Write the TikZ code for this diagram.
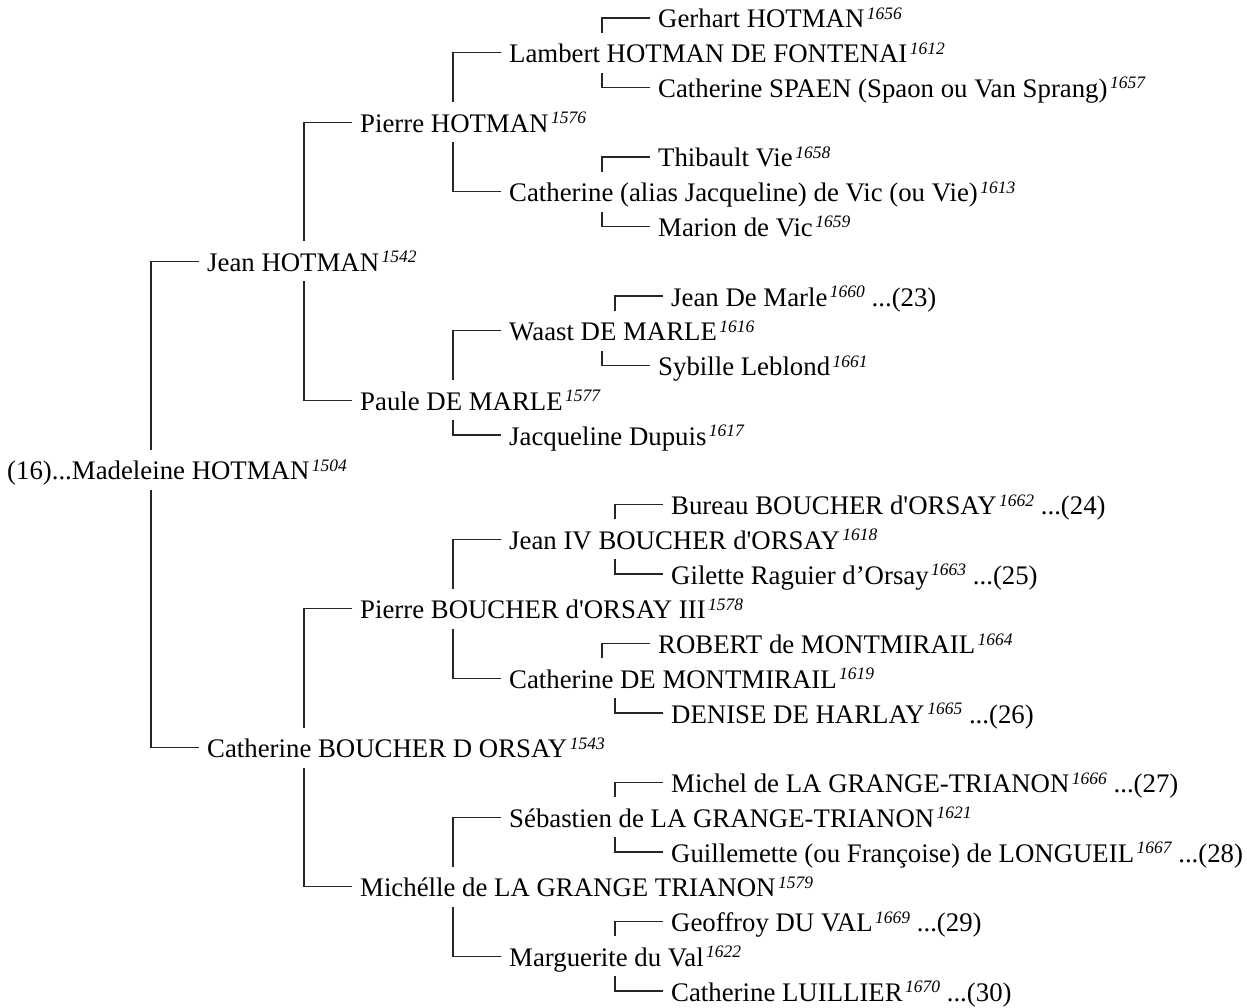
\documentclass[tikz,border=0pt]{standalone}
\usepackage{fontspec}
\setmainfont{Liberation Serif}[Ligatures=TeXOff]
\newcommand\yr[1]{\kern2.5pt\raisebox{8.5pt}{\fontsize{17.5}{17.5}\selectfont\itshape #1}}
\newcommand\famlink[3]{%
  \path ([xshift=-56pt,yshift=10pt]#2.base west) coordinate (elbow)
        ([yshift=#3]#1.base west) coordinate (pend);
  \draw[conn] ([xshift=-8pt,yshift=10pt]#2.base west) -- (elbow) -- (elbow |- pend);}
\begin{document}
\begin{tikzpicture}[x=1pt,y=-1pt,
  person/.style={anchor=base west,inner sep=0pt,font=\fontsize{26.8}{30}\selectfont},
  conn/.style={draw=black!85,line width=1.2pt}]
\useasboundingbox[fill=white] (0,0) rectangle (1247,1008);
\def\rowy#1{28+34.75*#1}
\node[person] (r0)  at (658,{\rowy{0}})  {Gerhart HOTMAN\yr{1656}};
\node[person] (r1)  at (509,{\rowy{1}})  {Lambert HOTMAN DE FONTENAI\yr{1612}};
\node[person] (r2)  at (658,{\rowy{2}})  {Catherine SPAEN (Spaon ou Van Sprang)\yr{1657}};
\node[person] (r3)  at (360,{\rowy{3}})  {Pierre HOTMAN\yr{1576}};
\node[person] (r4)  at (658,{\rowy{4}})  {Thibault Vie\yr{1658}};
\node[person] (r5)  at (509,{\rowy{5}})  {Catherine (alias Jacqueline) de Vic (ou Vie)\yr{1613}};
\node[person] (r6)  at (658,{\rowy{6}})  {Marion de Vic\yr{1659}};
\node[person] (r7)  at (207,{\rowy{7}})  {Jean HOTMAN\yr{1542}};
\node[person] (r8)  at (671,{\rowy{8}})  {Jean De Marle\yr{1660} ...(23)};
\node[person] (r9)  at (509,{\rowy{9}})  {Waast DE MARLE\yr{1616}};
\node[person] (r10) at (658,{\rowy{10}}) {Sybille Leblond\yr{1661}};
\node[person] (r11) at (360,{\rowy{11}}) {Paule DE MARLE\yr{1577}};
\node[person] (r12) at (509,{\rowy{12}}) {Jacqueline Dupuis\yr{1617}};
\node[person] (r13) at (7,{\rowy{13}})   {(16)...Madeleine HOTMAN\yr{1504}};
\node[person] (r14) at (671,{\rowy{14}}) {Bureau BOUCHER d'ORSAY\yr{1662} ...(24)};
\node[person] (r15) at (509,{\rowy{15}}) {Jean IV BOUCHER d'ORSAY\yr{1618}};
\node[person] (r16) at (671,{\rowy{16}}) {Gilette Raguier d’Orsay\yr{1663} ...(25)};
\node[person] (r17) at (360,{\rowy{17}}) {Pierre BOUCHER d'ORSAY III\yr{1578}};
\node[person] (r18) at (658,{\rowy{18}}) {ROBERT de MONTMIRAIL\yr{1664}};
\node[person] (r19) at (509,{\rowy{19}}) {Catherine DE MONTMIRAIL\yr{1619}};
\node[person] (r20) at (671,{\rowy{20}}) {DENISE DE HARLAY\yr{1665} ...(26)};
\node[person] (r21) at (207,{\rowy{21}}) {Catherine BOUCHER D ORSAY\yr{1543}};
\node[person] (r22) at (671,{\rowy{22}}) {Michel de LA GRANGE-TRIANON\yr{1666} ...(27)};
\node[person] (r23) at (509,{\rowy{23}}) {Sébastien de LA GRANGE-TRIANON\yr{1621}};
\node[person] (r24) at (671,{\rowy{24}}) {Guillemette (ou Françoise) de LONGUEIL\yr{1667} ...(28)};
\node[person] (r25) at (360,{\rowy{25}}) {Michélle de LA GRANGE TRIANON\yr{1579}};
\node[person] (r26) at (671,{\rowy{26}}) {Geoffroy DU VAL\yr{1669} ...(29)};
\node[person] (r27) at (509,{\rowy{27}}) {Marguerite du Val\yr{1622}};
\node[person] (r28) at (671,{\rowy{28}}) {Catherine LUILLIER\yr{1670} ...(30)};
% connectors: child above parent -> end at parent top (30pt); below -> parent bottom (-10pt)
\famlink{r1}{r0}{30pt}
\famlink{r1}{r2}{-10pt}
\famlink{r3}{r1}{30pt}
\famlink{r3}{r5}{-10pt}
\famlink{r5}{r4}{30pt}
\famlink{r5}{r6}{-10pt}
\famlink{r7}{r3}{30pt}
\famlink{r7}{r11}{-10pt}
\famlink{r9}{r8}{30pt}
\famlink{r9}{r10}{-10pt}
\famlink{r11}{r9}{30pt}
\famlink{r11}{r12}{-10pt}
\famlink{r13}{r7}{30pt}
\famlink{r13}{r21}{-10pt}
\famlink{r15}{r14}{30pt}
\famlink{r15}{r16}{-10pt}
\famlink{r17}{r15}{30pt}
\famlink{r17}{r19}{-10pt}
\famlink{r19}{r18}{30pt}
\famlink{r19}{r20}{-10pt}
\famlink{r21}{r17}{30pt}
\famlink{r21}{r25}{-10pt}
\famlink{r23}{r22}{30pt}
\famlink{r23}{r24}{-10pt}
\famlink{r25}{r23}{30pt}
\famlink{r25}{r27}{-10pt}
\famlink{r27}{r26}{30pt}
\famlink{r27}{r28}{-10pt}
\end{tikzpicture}
\end{document}
